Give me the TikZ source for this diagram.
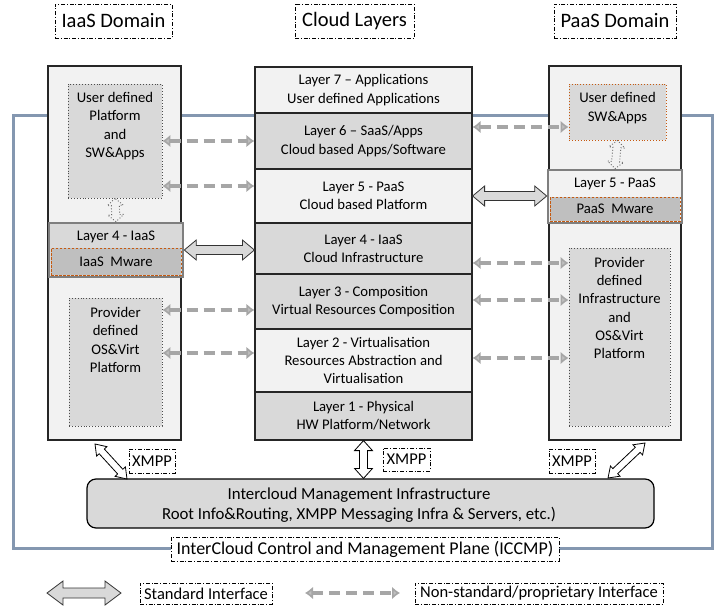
\documentclass[tikz,border=0pt]{standalone}
\usepackage{fontspec}
\setmainfont{Carlito}
\usetikzlibrary{arrows.meta,calc}
\definecolor{lt}{HTML}{F2F2F2}
\definecolor{md}{HTML}{D9D9D9}
\definecolor{dk}{HTML}{BFBFBF}
\definecolor{bord}{HTML}{7F7F7F}
\definecolor{org}{HTML}{C55A11}
\definecolor{frameblue}{HTML}{8497B0}
\definecolor{arrgray}{HTML}{A6A6A6}
\newcommand\fsL{\fontsize{14.7}{18.3}\selectfont}
\newcommand\fsT{\fontsize{20.5}{24}\selectfont}
\newcommand\fsX{\fontsize{16.5}{20}\selectfont}
\newcommand\fsI{\fontsize{16.8}{20}\selectfont}
\newcommand\fsC{\fontsize{18}{22}\selectfont}
\newcommand\fsG{\fontsize{16.5}{20}\selectfont}
% block arrow: [style]{from}{to}{head length}{half head width}{half shaft width}
\newcommand\blockarr[6][]{%
  \path[#1] let \p1=(#2), \p2=(#3), \n1={atan2(\y2-\y1,\x2-\x1)}, \n2={veclen(\x2-\x1,\y2-\y1)} in
  [shift={(\p1)}, rotate=\n1] (0,0) -- (#4,#5) -- (#4,#6) -- ({\n2-#4},#6) -- ({\n2-#4},#5) -- ({\n2},0)
  -- ({\n2-#4},-#5) -- ({\n2-#4},-#6) -- (#4,-#6) -- (#4,-#5) -- cycle;}
\tikzset{
  every node/.style={inner sep=0pt, align=center},
  dashdot/.style={dash pattern=on 4pt off 1.8pt on 1pt off 1.8pt},
  titlebox/.style={draw, dashdot, line width=0.8pt, fill=white, font=\fsT, minimum height=34pt},
  tagbox/.style={draw, dashdot, line width=0.8pt, fill=white, font=\fsX},
  legbox/.style={draw, dashdot, line width=0.8pt, fill=white, font=\fsG, minimum height=21pt},
  domainbox/.style={draw=black!85, line width=1.2pt, fill=lt},
  layerbox/.style={draw=black!85, line width=1.2pt, minimum width=217pt, font=\fsL},
  innerbox/.style={draw=black!70, dotted, line width=0.9pt, fill=md},
  innerorg/.style={draw=org, dotted, line width=0.9pt, fill=md},
  mwbox/.style={draw=org, dashed, dash pattern=on 2.5pt off 1.5pt, line width=0.8pt, fill=dk, font=\fsL},
  layframe/.style={draw=bord, line width=2.6pt},
  txt/.style={font=\fsL},
  ndash/.style={draw=arrgray, line width=4pt, dash pattern=on 11pt off 6pt,
    {Latex[length=8pt,width=13pt,fill=dk]}-{Latex[length=8pt,width=13pt,fill=dk]}},
  stdarr/.style={draw=black!80, line width=0.8pt, fill=md},
  xmpparr/.style={draw=black, line width=0.8pt, fill=white},
  dotarr/.style={draw=black!60, dotted, line width=0.9pt, fill=lt},
}
\begin{document}
\begin{tikzpicture}[x=1pt, y=-1pt]
\useasboundingbox (0,0) rectangle (718,610);
% ICCMP frame
\draw[draw=frameblue, line width=3pt] (13,115) rectangle (712,548);

% titles
\node[titlebox, minimum width=117pt] (tI) at (113.5,21) {IaaS Domain};
\node[titlebox, minimum width=119pt] (tC) at (354.5,21) {Cloud Layers};
\node[titlebox, minimum width=122pt] (tP) at (615,21) {PaaS Domain};

% IaaS domain
\node[domainbox, minimum width=133pt, minimum height=374pt] (ldom) at (114.5,253) {};
\node[innerbox, minimum width=94pt, minimum height=114pt] (udp) at (115,141) {};
\node[txt] (udpT) at (115,126) {User defined\\Platform\\and\\SW\&Apps};
\node[layframe, fill=md, minimum width=134pt, minimum height=54pt] (iaas4) at (116,250) {};
\node[mwbox, minimum width=130pt, minimum height=27pt] (iaasmw) at (116,261.5) {IaaS~ Mware};
\node[txt] (iaas4T) at (116,237) {Layer 4 - IaaS};
\node[innerbox, minimum width=93pt, minimum height=128pt] (pdp) at (115.5,362) {};
\node[txt] (pdpT) at (115.5,340) {Provider\\defined\\OS\&Virt\\Platform};

% Cloud layers
\node[layerbox, fill=lt, minimum height=46pt] (L7) at (363.5,90) {Layer 7 -- Applications\\User defined Applications};
\node[layerbox, fill=md, minimum height=56pt] (L6) at (363.5,141) {Layer 6 -- SaaS/Apps\\Cloud based Apps/Software};
\node[layerbox, fill=lt, minimum height=54pt] (L5) at (363.5,196) {Layer 5 - PaaS\\Cloud based Platform};
\node[layerbox, fill=md, minimum height=51pt] (L4) at (363.5,248.5) {Layer 4 - IaaS\\Cloud Infrastructure};
\node[layerbox, fill=md, minimum height=55pt] (L3) at (363.5,301.5) {Layer 3 - Composition\\Virtual Resources Composition};
\node[layerbox, fill=lt, minimum height=63pt] (L2) at (363.5,360.5) {Layer 2 - Virtualisation\\Resources Abstraction and\\Virtualisation};
\node[layerbox, fill=md, minimum height=48pt] (L1) at (363.5,416) {Layer 1 - Physical\\HW Platform/Network};

% PaaS domain
\node[domainbox, minimum width=132pt, minimum height=374pt] (rdom) at (615,253) {};
\node[innerorg, minimum width=97pt, minimum height=56pt] (usw) at (617.5,112) {};
\node[txt] (uswT) at (617.5,108) {User defined\\SW\&Apps};
\node[layframe, fill=lt, minimum width=134pt, minimum height=53pt] (paas5) at (615,196.5) {};
\node[mwbox, minimum width=130pt, minimum height=24pt] (paasmw) at (615,209) {PaaS~ Mware};
\node[txt] (paas5T) at (615,184) {Layer 5 - PaaS};
\node[innerbox, minimum width=101pt, minimum height=178pt] (ppd) at (619.5,337) {};
\node[txt] (ppdT) at (619.5,308) {Provider\\defined\\Infrastructure\\and\\OS\&Virt\\Platform};

% Intercloud management infrastructure
\node[draw=black, line width=1.2pt, fill=md, rounded corners=9pt, minimum width=567pt, minimum height=49pt] (ic) at (370.5,503.5) {};
\node[font=\fsI] (icT) at (359,505)
  {Intercloud Management Infrastructure\\Root Info\&Routing, XMPP Messaging Infra \& Servers, etc.)};
\node[tagbox, fill=white, minimum width=388pt, minimum height=24pt, font=\fsC] (iccmp) at (365,549) {InterCloud Control and Management Plane (ICCMP)};

% XMPP tags
\node[tagbox, minimum width=46pt, minimum height=24pt] (x1) at (152,461) {XMPP};
\node[tagbox, minimum width=47pt, minimum height=23pt] (x2) at (406.5,459.5) {XMPP};
\node[tagbox, minimum width=46pt, minimum height=24pt] (x3) at (572,461) {XMPP};

% non-standard (dashed) interfaces
\coordinate (a5) at ([yshift=10pt]L5.west);
\coordinate (a3) at ([yshift=-8.5pt]L3.west);
\coordinate (a2) at ([yshift=7.5pt]L2.west);
\draw[ndash] (udp.east |- L6.west) -- (L6.west);
\draw[ndash] (udp.east |- a5) -- (a5);
\draw[ndash] (pdp.east |- a3) -- (a3);
\draw[ndash] (pdp.east |- a2) -- (a2);
\coordinate (b6) at ([yshift=14pt]L6.east);
\coordinate (b4) at ([yshift=-14.5pt]L4.east);
\coordinate (b3) at ([yshift=1.5pt]L3.east);
\coordinate (b2) at ([yshift=2.5pt]L2.east);
\draw[ndash] (b6) -- (b6 -| usw.west);
\draw[ndash] (b4) -- (b4 -| ppd.west);
\draw[ndash] (b3) -- (b3 -| ppd.west);
\draw[ndash] (b2) -- (b2 -| ppd.west);

% standard interfaces
\blockarr[stdarr]{iaas4.east}{iaas4.east -| L4.west}{12}{10}{4.5}
\blockarr[stdarr]{L5.east}{L5.east -| paas5.west}{12}{10}{4.5}

% dotted internal arrows
\blockarr[dotarr]{udp.south}{iaas4.north}{7}{8}{4}
\blockarr[dotarr]{usw.south}{paas5.north}{7}{8}{4}

% XMPP arrows
\coordinate (xl1) at (95,444);
\coordinate (xl2) at (127,479);
\coordinate (xr1) at (645,443);
\coordinate (xr2) at (608,478);
\blockarr[xmpparr]{xl1}{xl2}{10}{7}{3.5}
\blockarr[xmpparr]{L1.south}{L1.south |- ic.north}{10}{9}{4}
\blockarr[xmpparr]{xr1}{xr2}{10}{7}{3.5}

% legend
\coordinate (lg1) at (47,593);
\coordinate (lg2) at (121,593);
\blockarr[stdarr]{lg1}{lg2}{16}{12}{5}
\node[legbox, minimum width=132pt] (std) at (206,593.5) {Standard Interface};
\coordinate (lg3) at (305,593);
\coordinate (lg4) at (400,593);
\draw[ndash] (lg3) -- (lg4);
\node[legbox, minimum width=248pt] (nstd) at (539,593.5) {Non-standard/proprietary Interface};
\end{tikzpicture}
\end{document}
